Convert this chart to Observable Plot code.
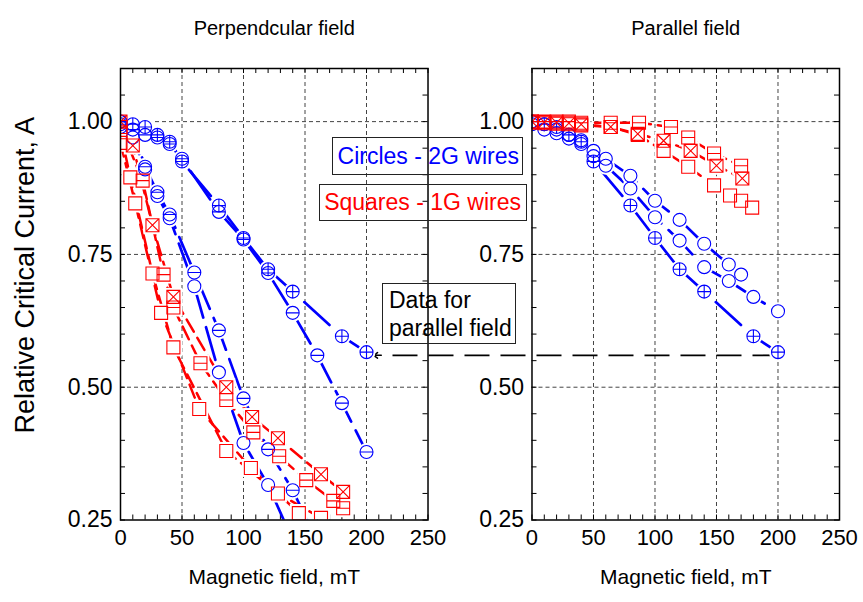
<!DOCTYPE html>
<html>
<head>
<meta charset="utf-8">
<script src="https://cdn.jsdelivr.net/npm/d3@7"></script>
<script src="https://cdn.jsdelivr.net/npm/@observablehq/plot@0.6"></script>
<style>
  body { margin: 0; background: #fff; font-family: "Liberation Sans", Arial, sans-serif; }
  #chart { position: relative; width: 863px; height: 602px; }
  .note { position: absolute; box-sizing: border-box; border: 1px solid #222; background: none;
          font-size: 23px; line-height: 1; white-space: nowrap; display: flex; align-items: center; }
</style>
</head>
<body>
<div id="chart">
  <div class="note" style="left:332px;top:137px;width:191px;height:38px;justify-content:flex-end;padding-right:3px;color:#0000ff">Circles - 2G wires</div>
  <div class="note" style="left:319px;top:184px;width:208px;height:37px;justify-content:flex-end;padding-right:5px;color:#ff0000">Squares - 1G wires</div>
  <div class="note" style="left:382px;top:283px;width:134px;height:61px;padding-left:6px;line-height:28px;color:#000">Data for<br>parallel field</div>
</div>
<script>
// Panels
const panels = ["Perpendcular field", "Parallel field"];

// Axis ticks
const xTickValues = [0, 50, 100, 150, 200, 250];
const yTickValues = [0.25, 0.5, 0.75, 1.0];
const xGridValues = [50, 100, 150, 200];
const yGridValues = [0.5, 0.75, 1.0];

// 2G wire measured in parallel field (also overlaid in the perpendicular panel)
const par2GaX = [0, 10, 20, 30, 40, 50, 80, 100, 120, 140, 180, 200];
const par2GaY = [1.0, 0.995, 0.99, 0.975, 0.962, 0.925, 0.842, 0.781, 0.722, 0.68, 0.596, 0.566];

// 2G wires, perpendicular field
const perp2GbX = [0, 20, 30, 40, 50, 80, 100, 120, 140, 160, 180, 200];
const perp2GbY = [0.995, 0.975, 0.97, 0.958, 0.93, 0.83, 0.778, 0.715, 0.64, 0.56, 0.47, 0.378];
const perp2GcX = [0, 10, 20, 30, 40, 60, 80, 100, 120, 140, 160];
const perp2GcY = [1.0, 0.985, 0.915, 0.867, 0.825, 0.716, 0.607, 0.479, 0.383, 0.306, 0.21];
const perp2GdX = [0, 10, 20, 30, 40, 60, 80, 100, 120, 140];
const perp2GdY = [0.99, 0.97, 0.91, 0.86, 0.818, 0.69, 0.528, 0.395, 0.316, 0.212];

// 1G wires, perpendicular field
const perp1GaX = [0, 10, 26, 43, 86, 107, 128, 163, 181];
const perp1GaY = [1.0, 0.955, 0.805, 0.67, 0.5, 0.444, 0.404, 0.336, 0.303];
const perp1GbX = [0, 18, 35, 43, 65, 86, 108, 129, 151, 173, 181];
const perp1GbY = [0.99, 0.889, 0.712, 0.65, 0.545, 0.476, 0.415, 0.37, 0.325, 0.286, 0.272];
const perp1GcX = [0, 8, 26, 43, 86, 128, 163];
const perp1GcY = [0.98, 0.895, 0.714, 0.575, 0.38, 0.3, 0.254];
const perp1GdX = [0, 12, 33, 64, 106, 145];
const perp1GdY = [0.96, 0.846, 0.64, 0.459, 0.348, 0.263];

// 2G wires, parallel field
const par2GbX = [0, 10, 20, 30, 40, 50, 60, 80, 100, 120, 140, 160, 170];
const par2GbY = [1.0, 0.995, 0.985, 0.975, 0.965, 0.945, 0.93, 0.898, 0.851, 0.815, 0.77, 0.731, 0.712];
const par2GcX = [0, 10, 20, 30, 40, 50, 60, 80, 100, 120, 140, 160, 180, 200];
const par2GcY = [0.995, 0.985, 0.978, 0.968, 0.958, 0.935, 0.917, 0.874, 0.82, 0.776, 0.726, 0.7, 0.67, 0.643];

// 1G wires, parallel field
const par1GaX = [0, 10, 20, 30, 40, 64, 87, 113, 127, 148, 170];
const par1GaY = [1.0, 1.0, 1.0, 1.0, 0.998, 0.998, 0.998, 0.99, 0.97, 0.94, 0.917];
const par1GbX = [0, 10, 20, 30, 40, 64, 86, 107, 129, 150, 171];
const par1GbY = [1.0, 0.999, 0.998, 0.997, 0.995, 0.99, 0.977, 0.964, 0.945, 0.917, 0.893];
const par1GcX = [0, 10, 20, 30, 40, 64, 86, 107, 127, 148, 161, 170, 179];
const par1GcY = [0.998, 0.997, 0.996, 0.995, 0.993, 0.99, 0.975, 0.945, 0.915, 0.88, 0.861, 0.851, 0.838];

// Arrow pointing at the parallel-field curve in the left panel
const arrowY = 0.56;
const arrowTargetX = 200;

const seriesList = [
  {panel: 0, wire: "2G", kind: "circlePlus",  xs: par2GaX,  ys: par2GaY},
  {panel: 0, wire: "2G", kind: "circleMinus", xs: perp2GbX, ys: perp2GbY},
  {panel: 0, wire: "2G", kind: "circleMinus", xs: perp2GcX, ys: perp2GcY},
  {panel: 0, wire: "2G", kind: "circle",      xs: perp2GdX, ys: perp2GdY},
  {panel: 0, wire: "1G", kind: "squareTimes", xs: perp1GaX, ys: perp1GaY},
  {panel: 0, wire: "1G", kind: "squareMinus", xs: perp1GbX, ys: perp1GbY},
  {panel: 0, wire: "1G", kind: "square",      xs: perp1GcX, ys: perp1GcY},
  {panel: 0, wire: "1G", kind: "square",      xs: perp1GdX, ys: perp1GdY},
  {panel: 1, wire: "2G", kind: "circlePlus",  xs: par2GaX,  ys: par2GaY},
  {panel: 1, wire: "2G", kind: "circle",      xs: par2GbX,  ys: par2GbY},
  {panel: 1, wire: "2G", kind: "circle",      xs: par2GcX,  ys: par2GcY},
  {panel: 1, wire: "1G", kind: "squareMinus", xs: par1GaX,  ys: par1GaY},
  {panel: 1, wire: "1G", kind: "squareTimes", xs: par1GbX,  ys: par1GbY},
  {panel: 1, wire: "1G", kind: "square",      xs: par1GcX,  ys: par1GcY}
];

const rows = seriesList.flatMap((s, i) =>
  s.xs.map((x, j) => ({panel: panels[s.panel], id: i, wire: s.wire, kind: s.kind, x, y: s.ys[j]})));

// Open marker shapes (circle / square, optionally with a cross, bar or diagonal cross inside)
function shape(base, inner) {
  return {
    draw(ctx, size) {
      const r = Math.sqrt(size / Math.PI);
      if (base === "circle") { ctx.moveTo(r, 0); ctx.arc(0, 0, r, 0, 2 * Math.PI); ctx.closePath(); }
      else { ctx.moveTo(-r, -r); ctx.lineTo(r, -r); ctx.lineTo(r, r); ctx.lineTo(-r, r); ctx.closePath(); }
      if (inner === "plus" || inner === "minus") { ctx.moveTo(-r, 0); ctx.lineTo(r, 0); }
      if (inner === "plus") { ctx.moveTo(0, -r); ctx.lineTo(0, r); }
      if (inner === "times") { ctx.moveTo(-r, -r); ctx.lineTo(r, r); ctx.moveTo(r, -r); ctx.lineTo(-r, r); }
    }
  };
}
const symbols = {
  circle: shape("circle"), circlePlus: shape("circle", "plus"), circleMinus: shape("circle", "minus"),
  square: shape("square"), squareTimes: shape("square", "times"), squareMinus: shape("square", "minus")
};
const blue = "#0000ff", red = "#ff0000";

// Layout
const width = 863, height = 602;
const marginLeft = 120, marginRight = 24, marginTop = 68, marginBottom = 82.5;
const panelGap = 0.2527;
const plotW = width - marginLeft - marginRight;
const step = plotW / (2 - panelGap);
const bandW = step * (1 - panelGap);
const frameH = height - marginTop - marginBottom;
const unitsPerPanelStep = step / (bandW / 250);

const yMinor = d3.range(0.25, 1.1001, 0.05);
const xMinor = d3.range(0, 251, 10);

const arrowRow = [{panel: panels[0], y: arrowY}];

const markerMarks = Object.keys(symbols).map(k => {
  const data = rows.filter(d => d.kind === k);
  return Plot.dot(data, {x: "x", y: "y", fx: "panel", r: 6.5, symbol: symbols[k], fill: "none",
    stroke: d => d.wire === "2G" ? blue : red, strokeWidth: 1.1, clip: true});
});
const maskMarks = ["circle", "square"].map(b =>
  Plot.dot(rows.filter(d => d.kind.startsWith(b)), {x: "x", y: "y", fx: "panel", r: 9,
    symbol: symbols[b], fill: "white", stroke: "none", clip: true}));

const chart = Plot.plot({
  width, height, marginLeft, marginRight, marginTop, marginBottom,
  style: {fontFamily: '"Liberation Sans", Arial, sans-serif', color: "#000", background: "transparent"},
  fx: {domain: panels, axis: null, paddingInner: panelGap, paddingOuter: 0, round: false},
  x: {domain: [0, 250]},
  y: {domain: [0.25, 1.1]},
  marks: [
    Plot.ruleX(xGridValues, {x: d => d, stroke: "#444", strokeDasharray: "4,3", strokeWidth: 1}),
    Plot.ruleY(yGridValues, {y: d => d, stroke: "#444", strokeDasharray: "4,3", strokeWidth: 1}),
    Plot.tickY(yMinor, {y: d => d, insetRight: bandW - 5, stroke: "#000"}),
    Plot.tickY(yMinor, {y: d => d, insetLeft: bandW - 5, stroke: "#000"}),
    Plot.tickX(xMinor, {x: d => d, insetTop: frameH - 5, stroke: "#000"}),
    Plot.tickX(xMinor, {x: d => d, insetBottom: frameH - 5, stroke: "#000"}),
    Plot.ruleY(arrowRow, {fx: "panel", y: "y", x1: () => arrowTargetX + unitsPerPanelStep, x2: () => arrowTargetX + 14,
      stroke: "#000", strokeWidth: 1.8, strokeDasharray: "25,11"}),
    Plot.arrow(arrowRow, {fx: "panel", y: "y", x1: () => arrowTargetX + 12, x2: () => arrowTargetX,
      insetEnd: 7, headLength: 11, headAngle: 70, stroke: "#000", strokeWidth: 1.5}),
    Plot.line(rows.filter(d => d.wire === "1G"), {x: "x", y: "y", z: "id", fx: "panel", stroke: red,
      strokeWidth: 2.5, strokeDasharray: "14,7", clip: true}),
    Plot.line(rows.filter(d => d.wire === "2G"), {x: "x", y: "y", z: "id", fx: "panel", stroke: blue,
      strokeWidth: 2.7, strokeDasharray: "34,10", clip: true}),
    ...maskMarks,
    ...markerMarks,
    Plot.frame({stroke: "#000", strokeWidth: 1.5}),
    Plot.axisX({ticks: xTickValues, tickSize: 0, tickPadding: 9, fontSize: 22, label: null}),
    Plot.axisY({ticks: yTickValues, tickFormat: d3.format(".2f"), tickSize: 0, tickPadding: 8,
      fontSize: 23, label: null, facetAnchor: null}),
    Plot.text(panels, {fx: d => d, text: d => d, frameAnchor: "top", dy: -48, fontSize: 20}),
    Plot.text(panels, {fx: d => d, text: () => "Magnetic field, mT", frameAnchor: "bottom", dy: 64, fontSize: 21}),
    Plot.text([panels[0]], {fx: d => d, text: () => "Relative Critical Current, A", frameAnchor: "left",
      textAnchor: "middle", dx: -95, dy: -19, rotate: -90, fontSize: 27})
  ]
});
chart.style.position = "absolute";
chart.style.left = "0";
chart.style.top = "0";
const host = document.getElementById("chart");
host.insertBefore(chart, host.firstChild);
</script>
</body>
</html>
